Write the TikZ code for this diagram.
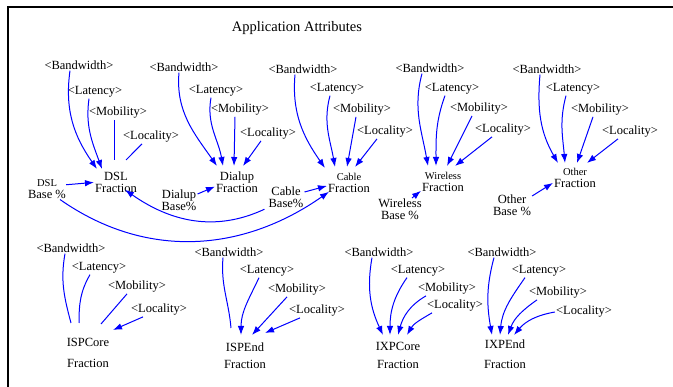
\documentclass[tikz,border=0pt]{standalone}
\usepackage{fontspec}
\setmainfont{Liberation Serif}
\usetikzlibrary{arrows.meta}
\newcommand\lblfont{\fontsize{12.5}{12}\selectfont}
\newcommand\smlfont{\fontsize{10.5}{12}\selectfont}

\begin{document}
\begin{tikzpicture}[x=1pt,y=-1pt,>={Latex[length=9pt,width=6.5pt]},
	attr/.style={font=\lblfont,inner sep=1pt},
	frac/.style={font=\lblfont,align=center,inner sep=1pt,anchor=north},
	link/.style={blue,line width=1pt,->},
	bare/.style={blue,line width=1pt}]
	\useasboundingbox (0,0) rectangle (673,387);
	\draw [line width=1.5pt] (673,7) -- (8,7) -- (8,387);
	\node [font=\fontsize{14.5}{16}\selectfont] (title) at (297,28) {Application Attributes};
	% DSL
	\node [attr] (dslbw) at (79,65) {<Bandwidth>};
	\node [attr] (dsllat) at (95,92) {<Latency>};
	\node [attr] (dslmob) at (118,113) {<Mobility>};
	\node [attr] (dslloc) at (151,137) {<Locality>};
	\node [frac] (dslfr) at (116,171) {DSL\\Fraction};
	\node [frac] (dslbase) at (47,178) {{\smlfont DSL}\\Base \%};
	\draw [link] ([xshift=-9pt]dslbw.south) to[out=262,in=125] ([xshift=-19pt,yshift=2pt]dslfr.north);
	\draw [link] ([xshift=-6pt]dsllat.south) to[out=262,in=110] ([xshift=-14pt,yshift=2pt]dslfr.north);
	\draw [bare] ([xshift=-4pt]dslmob.south) -- ([xshift=-2pt,yshift=11pt]dslfr.north);
	\draw [bare] ([xshift=-9pt]dslloc.south) -- ([xshift=10pt,yshift=11pt]dslfr.north);
	\draw [link] ([xshift=-1pt,yshift=4pt]dslbase.east) -- (dslfr.west);
	% Dialup
	\node [attr] (dupbw) at (184,67) {<Bandwidth>};
	\node [attr] (duplat) at (216,91) {<Latency>};
	\node [attr] (dupmob) at (240,110) {<Mobility>};
	\node [attr] (duploc) at (268,134) {<Locality>};
	\node [frac] (dupfr) at (237,171) {Dialup\\Fraction};
	\node [frac] (dupbase) at (179,189) {Dialup\\Base\%};
	\draw [link] ([xshift=-5pt]dupbw.south) to[out=265,in=125] ([xshift=-20pt,yshift=5pt]dupfr.north);
	\draw [link] ([xshift=-5pt]duplat.south) to[out=260,in=100] ([xshift=-14pt,yshift=5pt]dupfr.north);
	\draw [link] ([xshift=-5pt]dupmob.south) -- ([xshift=-3pt,yshift=5pt]dupfr.north);
	\draw [link] ([xshift=-7pt]duploc.south) -- ([xshift=6pt,yshift=5pt]dupfr.north);
	\draw [link] ([yshift=-5pt]dupbase.north east) -- ([yshift=-4pt]dupfr.west);
	% Cable
	\node [attr] (cabbw) at (303,69) {<Bandwidth>};
	\node [attr] (cablat) at (337,89) {<Latency>};
	\node [attr] (cabmob) at (362,110) {<Mobility>};
	\node [attr] (cabloc) at (385,132) {<Locality>};
	\node [frac] (cabfr) at (349,172) {{\smlfont Cable}\\Fraction};
	\node [frac] (cabbase) at (286,186) {Cable\\Base\%};
	\draw [link] ([xshift=-8pt]cabbw.south) to[out=265,in=125] ([xshift=-24pt,yshift=4pt]cabfr.north);
	\draw [link] ([xshift=-7pt]cablat.south) to[out=255,in=100] ([xshift=-14pt,yshift=5pt]cabfr.north);
	\draw [link] ([xshift=-6pt]cabmob.south) -- ([xshift=-2pt,yshift=5pt]cabfr.north);
	\draw [link] ([xshift=-8pt]cabloc.south) -- ([xshift=6pt,yshift=5pt]cabfr.north);
	\draw [link] ([yshift=-6pt]cabbase.north east) -- ([yshift=-3pt]cabfr.west);
	% Wireless
	\node [attr] (wlbw) at (430,68) {<Bandwidth>};
	\node [attr] (wllat) at (452,89) {<Latency>};
	\node [attr] (wlmob) at (479,109) {<Mobility>};
	\node [attr] (wlloc) at (503,130) {<Locality>};
	\node [frac] (wlfr) at (443,171) {{\smlfont Wireless}\\Fraction};
	\node [frac] (wlbase) at (400,198) {Wireless\\Base \%};
	\draw [link] ([xshift=-8pt]wlbw.south) to[out=255,in=100] ([xshift=-15pt,yshift=5pt]wlfr.north);
	\draw [link] ([xshift=-7pt]wllat.south) to[out=250,in=90] ([xshift=-7pt,yshift=5pt]wlfr.north);
	\draw [link] ([xshift=-7pt]wlmob.south) -- ([xshift=4pt,yshift=5pt]wlfr.north);
	\draw [link] ([xshift=-11pt]wlloc.south) -- ([xshift=12pt,yshift=5pt]wlfr.north);
	\draw [link] ([xshift=12pt]wlbase.north) -- ([yshift=2pt]wlfr.south west);
	% Other
	\node [attr] (othbw) at (547,69) {<Bandwidth>};
	\node [attr] (othlat) at (573,89) {<Latency>};
	\node [attr] (othmob) at (600,110) {<Mobility>};
	\node [attr] (othloc) at (630,132) {<Locality>};
	\node [frac] (othfr) at (575,167) {{\smlfont Other}\\Fraction};
	\node [frac] (othbase) at (512,194) {Other\\Base \%};
	\draw [link] ([xshift=-7pt]othbw.south) to[out=265,in=120] ([xshift=-17pt,yshift=4pt]othfr.north);
	\draw [link] ([xshift=-7pt]othlat.south) to[out=255,in=95] ([xshift=-10pt,yshift=4pt]othfr.north);
	\draw [link] ([xshift=-7pt]othmob.south) -- ([xshift=2pt,yshift=4pt]othfr.north);
	\draw [link] ([xshift=-12pt]othloc.south) -- ([xshift=12pt,yshift=4pt]othfr.north);
	\draw [link] ([yshift=-2pt]othbase.north east) -- ([yshift=-5pt]othfr.west);
	% base arcs
	\draw [link] ([xshift=-3pt]cabbase.south west) to[out=205,in=-35] ([xshift=9pt,yshift=4pt]dslfr.south);
	\draw [link] ([xshift=13pt]dslbase.south) to[out=-35,in=215] ([xshift=2pt,yshift=2pt]cabfr.south west);
	% ISPCore
	\node [attr] (ispbw) at (71,248) {<Bandwidth>};
	\node [attr] (isplat) at (99,268) {<Latency>};
	\node [attr] (ispmob) at (137,287) {<Mobility>};
	\node [attr] (isploc) at (159,310) {<Locality>};
	\node [frac] (ispcfr) at (88,337) {ISPCore\\[9pt]Fraction};
	\draw [bare] ([xshift=-6pt]ispbw.south) to[out=260,in=105] ([xshift=-17pt,yshift=14pt]ispcfr.north);
	\draw [bare] ([xshift=-9pt]isplat.south) to[out=240,in=90] ([xshift=-9pt,yshift=14pt]ispcfr.north);
	\draw [bare] ([xshift=-10pt]ispmob.south) -- ([xshift=13pt,yshift=13pt]ispcfr.north);
	\draw [link] ([xshift=-16pt]isploc.south) -- ([xshift=25pt,yshift=7pt]ispcfr.north);
	% ISPEnd
	\node [attr] (iebw) at (229,252) {<Bandwidth>};
	\node [attr] (ielat) at (267,271) {<Latency>};
	\node [attr] (iemob) at (297,290) {<Mobility>};
	\node [attr] (ieloc) at (317,311) {<Locality>};
	\node [frac] (iefr) at (245,342) {ISPEnd\\[5pt]Fraction};
	\draw [bare] ([xshift=-6pt]iebw.south) to[out=265,in=95] ([xshift=-14pt,yshift=14pt]iefr.north);
	\draw [link] ([xshift=-8pt]ielat.south) to[out=245,in=90] ([xshift=-4pt,yshift=7pt]iefr.north);
	\draw [link] ([xshift=-10pt]iemob.south) -- ([xshift=7pt,yshift=7pt]iefr.north);
	\draw [link] ([xshift=-17pt]ieloc.south) -- ([xshift=20pt,yshift=9pt]iefr.north);
	% IXPCore
	\node [attr] (ixcbw) at (379,252) {<Bandwidth>};
	\node [attr] (ixclat) at (418,271) {<Latency>};
	\node [attr] (ixcmob) at (447,289) {<Mobility>};
	\node [attr] (ixcloc) at (455,306) {<Locality>};
	\node [frac] (ixcfr) at (398,341) {IXPCore\\[6pt]Fraction};
	\draw [link] ([xshift=-7pt]ixcbw.south) to[out=260,in=115] ([xshift=-15pt,yshift=6pt]ixcfr.north);
	\draw [link] ([xshift=-11pt]ixclat.south) to[out=235,in=90] ([xshift=-8pt,yshift=6pt]ixcfr.north);
	\draw [link] ([xshift=-21pt]ixcmob.south) to[out=210,in=75] ([yshift=6pt]ixcfr.north);
	\draw [link] ([xshift=-23pt]ixcloc.south) to[out=210,in=60] ([xshift=9pt,yshift=6pt]ixcfr.north);
	% IXPEnd
	\node [attr] (ixebw) at (502,252) {<Bandwidth>};
	\node [attr] (ixelat) at (539,271) {<Latency>};
	\node [attr] (ixemob) at (558,293) {<Mobility>};
	\node [attr] (ixeloc) at (584,312) {<Locality>};
	\node [frac] (ixefr) at (505,339) {IXPEnd\\[8pt]Fraction};
	\draw [link] ([xshift=-8pt]ixebw.south) to[out=255,in=100] ([xshift=-13pt,yshift=4pt]ixefr.north);
	\draw [link] ([xshift=-14pt]ixelat.south) to[out=235,in=85] ([xshift=-5pt,yshift=4pt]ixefr.north);
	\draw [link] ([xshift=-21pt]ixemob.south) to[out=215,in=70] ([xshift=3pt,yshift=4pt]ixefr.north);
	\draw [link] (ixeloc.west) to[out=190,in=50] ([xshift=9pt,yshift=4pt]ixefr.north);
\end{tikzpicture}
\end{document}
